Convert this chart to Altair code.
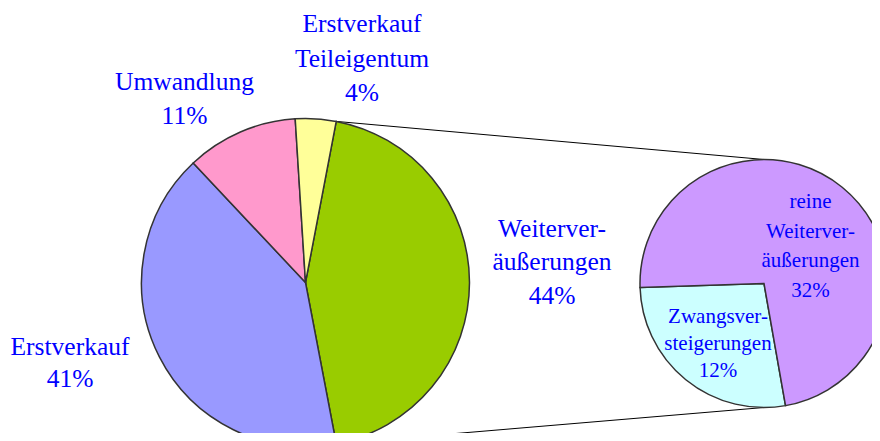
import math
import altair as alt
import pandas as pd

# ---- data ----
main_labels = ["Weiterver-\näußerungen", "Erstverkauf", "Umwandlung", "Erstverkauf\nTeileigentum"]
main_values = [44, 41, 11, 4]
sub_labels = ["Zwangsver-\nsteigerungen", "reine\nWeiterver-\näußerungen"]
sub_values = [12, 32]

# ---- styles ----
main_colors = ["#99CC00", "#9999FF", "#FF99CC", "#FFFF99"]
sub_colors = ["#CCFFFF", "#CC99FF"]
FONT = "Liberation Serif, Times New Roman, Times, serif"
TEXT_COLOR = "#0000FF"

# ---- layout (page pixels; chart origin is at 8,8) ----
OFF = 8
W, H = 880 - 2 * OFF, 441 - 2 * OFF
main_cx, main_cy, main_r = 305.5, 282.5, 164
sub_cx, sub_cy, sub_r = 764, 283.5, 124
main_start = math.pi / 2 - math.pi * main_values[0] / sum(main_values)
sub_start = math.radians(170)
main_label_pos = [(552, 236.5), (70, 355), (184.5, 90), (362, 32)]
main_label_lh = [33.5, 31.7, 34.3, 34.5]
sub_label_pos = [(718, 322.7), (810.5, 208)]
sub_label_lh = [27.3, 29.5]
main_fs = 25.5
sub_fs = 21

main_df = pd.DataFrame({
    "label": main_labels,
    "value": main_values,
    "ord": list(range(len(main_values))),
    "color": main_colors,
})
sub_df = pd.DataFrame({
    "label": sub_labels,
    "value": sub_values,
    "ord": list(range(len(sub_values))),
    "color": sub_colors,
})


def pie(df, cx, cy, r, start):
    return alt.Chart(df).mark_arc(
        radius=r, stroke="#333333", strokeWidth=1.5
    ).encode(
        theta=alt.Theta("value:Q", stack=True,
                        scale=alt.Scale(range=[start, start + 2 * math.pi])),
        order=alt.Order("ord:Q"),
        color=alt.Color("color:N", scale=None),
        x=alt.value(cx - OFF),
        y=alt.value(cy - OFF),
    )


def labels(df, pos, lhs, fs):
    layers = []
    for (l, v), p, lh in zip(zip(df["label"], df["value"]), pos, lhs):
        tdf = pd.DataFrame({
            "text": [f"{l}\n{v}%"],
            "px": [p[0] - OFF],
            "py": [p[1] - OFF],
        })
        layers.append(alt.Chart(tdf).mark_text(
            font=FONT, fontSize=fs, color=TEXT_COLOR, align="center",
            baseline="alphabetic", lineBreak="\n", lineHeight=lh
        ).encode(
            x=alt.X("px:Q", scale=None),
            y=alt.Y("py:Q", scale=None),
            text="text:N",
        ))
    return layers


# connector lines from the edges of the exploded slice to the secondary pie
share = main_values[0] / sum(main_values)
a0 = main_start
a1 = main_start + 2 * math.pi * share
conn = pd.DataFrame({
    "x1": [main_cx + main_r * math.sin(a0) - OFF, main_cx + main_r * math.sin(a1) - OFF],
    "y1": [main_cy - main_r * math.cos(a0) - OFF, main_cy - main_r * math.cos(a1) - OFF],
    "x2": [sub_cx - OFF, sub_cx - OFF],
    "y2": [sub_cy - sub_r - OFF, sub_cy + sub_r - OFF],
})
lines = alt.Chart(conn).mark_rule(color="#000000", strokeWidth=1).encode(
    x=alt.X("x1:Q", scale=None), y=alt.Y("y1:Q", scale=None),
    x2="x2:Q", y2="y2:Q",
)

chart = alt.layer(
    lines,
    pie(main_df, main_cx, main_cy, main_r, main_start),
    pie(sub_df, sub_cx, sub_cy, sub_r, sub_start),
    *labels(main_df, main_label_pos, main_label_lh, main_fs),
    *labels(sub_df, sub_label_pos, sub_label_lh, sub_fs),
).resolve_scale(
    theta="independent"
).properties(
    width=W, height=H, padding=0, autosize=alt.AutoSizeParams(type="none"),
    background="#FFFFFF",
).configure_view(stroke=None)

chart.save("out.html", embed_options={"renderer": "svg", "actions": False})
